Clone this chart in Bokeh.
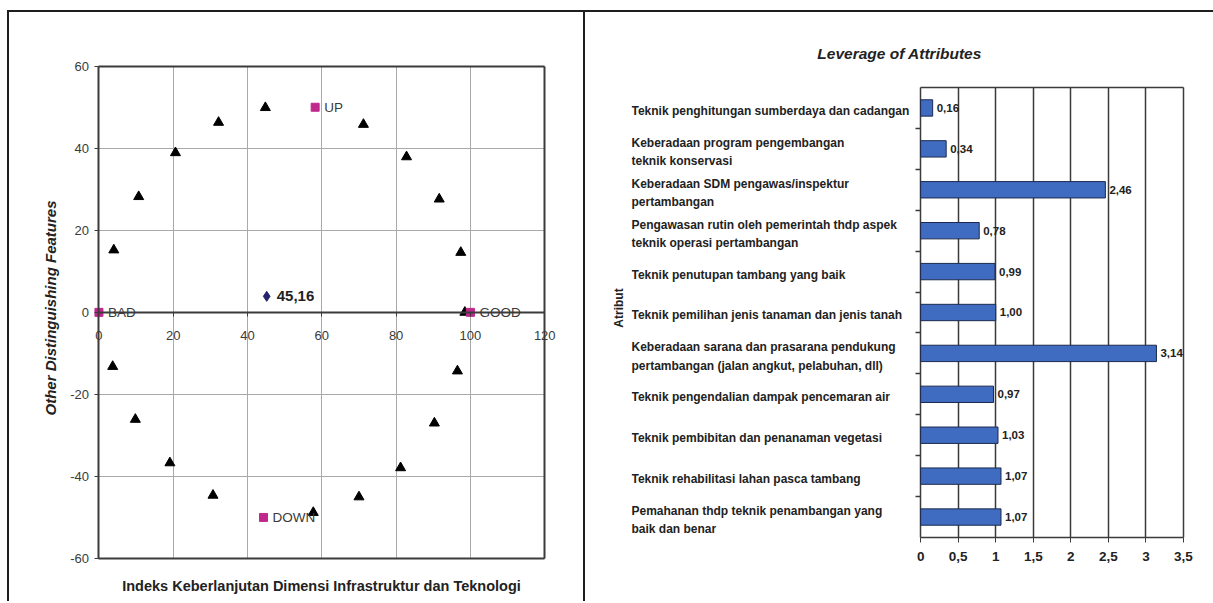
import numpy as np
from bokeh.plotting import figure
from bokeh.models import (LinearAxis, FixedTicker, Range1d, Label, LabelSet, Grid,
                          ColumnDataSource)
from bokeh.layouts import row
from bokeh.core.properties import value
from bokeh.embed import file_html
from bokeh.resources import INLINE

FONT = "Liberation Sans"

# ---------------- ordination data ----------------
attr_x = [4.0, 10.7, 20.6, 32.2, 44.8, 71.2, 82.8, 91.6, 97.4,
          98.5,
          96.5, 90.3, 81.2, 70.0, 57.7, 30.7, 19.1, 9.8, 3.7]
attr_y = [15.2, 28.2, 38.9, 46.3, 49.9, 45.8, 37.9, 27.6, 14.6,
          0.0,
          -14.3, -27.0, -37.9, -45.0, -48.8, -44.6, -36.7, -26.1, -13.2]

anchor_names = ["GOOD", "BAD", "UP", "DOWN"]
anchor_x = [100.0, 0.0, 58.2, 44.3]
anchor_y = [0.0, 0.0, 50.0, -50.0]

index_x = [45.16]
index_y = [3.9]

x_ticks = [0, 20, 40, 60, 80, 100, 120]
y_ticks = [-60, -40, -20, 0, 20, 40, 60]

# ---------------- leverage data ----------------
attributes = [
    "Teknik penghitungan sumberdaya dan cadangan",
    "Keberadaan program pengembangan\nteknik konservasi",
    "Keberadaan SDM pengawas/inspektur\npertambangan",
    "Pengawasan rutin oleh pemerintah thdp aspek\nteknik operasi pertambangan",
    "Teknik penutupan tambang yang baik",
    "Teknik pemilihan jenis tanaman dan jenis tanah",
    "Keberadaan sarana dan prasarana pendukung\npertambangan (jalan angkut, pelabuhan, dll)",
    "Teknik pengendalian dampak pencemaran air",
    "Teknik pembibitan dan penanaman vegetasi",
    "Teknik rehabilitasi lahan pasca tambang",
    "Pemahanan thdp teknik penambangan yang\nbaik dan benar",
]
leverage = [0.16, 0.34, 2.46, 0.78, 0.99, 1.00, 3.14, 0.97, 1.03, 1.07, 1.07]
lev_ticks = [0, 0.5, 1, 1.5, 2, 2.5, 3, 3.5]

DARK = "#3d3a3a"
GRID = "#a9a9a9"
TEXT = "#222222"

# ================= left panel: ordination =================
# the visible box is 0..120 x -60..60; the ranges leave room for the axis texts
p1 = figure(width=578, height=591, x_range=Range1d(-10.08, 129.9), y_range=Range1d(-64.15, 66.27),
            output_backend="svg", toolbar_location=None,
            min_border_left=52, min_border_right=6, min_border_top=28, min_border_bottom=28)
p1.background_fill_color = "white"
p1.border_fill_color = "white"
p1.outline_line_color = None

p1.xaxis.fixed_location = 0
p1.yaxis.fixed_location = 0
p1.xaxis.bounds = (x_ticks[0], x_ticks[-1])
p1.yaxis.bounds = (y_ticks[0], y_ticks[-1])
p1.xaxis.ticker = FixedTicker(ticks=x_ticks)
p1.yaxis.ticker = FixedTicker(ticks=y_ticks)
p1.yaxis.major_label_overrides = {t: str(t) for t in y_ticks}
for ax in (p1.xaxis, p1.yaxis):
    ax.axis_line_color = DARK
    ax.axis_line_width = 2
    ax.major_tick_line_color = DARK
    ax.major_tick_in = 0
    ax.major_tick_out = 4
    ax.minor_tick_line_color = None
    ax.major_label_text_font = FONT
    ax.major_label_text_font_size = "13px"
    ax.major_label_text_color = "#3a3a3a"
p1.xaxis.major_label_standoff = 15
p1.yaxis.major_label_standoff = 6

p1.xgrid.grid_line_color = GRID
p1.ygrid.grid_line_color = GRID
p1.xgrid.cross_bounds = (y_ticks[0], y_ticks[-1])
p1.ygrid.cross_bounds = (x_ticks[0], x_ticks[-1])

# dark box around the ordination area
p1.add_layout(Grid(dimension=0, ticker=FixedTicker(ticks=[x_ticks[-1]]),
                   cross_bounds=(y_ticks[0], y_ticks[-1]),
                   grid_line_color=DARK, grid_line_width=2))
p1.add_layout(Grid(dimension=1, ticker=FixedTicker(ticks=[y_ticks[0], y_ticks[-1]]),
                   cross_bounds=(x_ticks[0], x_ticks[-1]),
                   grid_line_color=DARK, grid_line_width=2))

xtitle = LinearAxis(ticker=FixedTicker(ticks=[]),
                    axis_label="Indeks Keberlanjutan Dimensi Infrastruktur dan Teknologi",
                    axis_line_color=None, major_tick_line_color=None,
                    minor_tick_line_color=None, axis_label_standoff=2,
                    axis_label_text_font=FONT, axis_label_text_font_size="14.5px",
                    axis_label_text_font_style="bold", axis_label_text_color=TEXT)
p1.add_layout(xtitle, "below")
ytitle = LinearAxis(ticker=FixedTicker(ticks=[]),
                    axis_label="Other Distinguishing Features",
                    axis_line_color=None, major_tick_line_color=None,
                    minor_tick_line_color=None, axis_label_standoff=3,
                    axis_label_text_font=FONT, axis_label_text_font_size="15px",
                    axis_label_text_font_style="bold italic", axis_label_text_color=TEXT)
p1.add_layout(ytitle, "left")

p1.scatter(attr_x, attr_y, marker="triangle", size=10, fill_color="black", line_color="black")

anchor_src = ColumnDataSource(dict(x=anchor_x, y=anchor_y, name=anchor_names))
p1.scatter("x", "y", source=anchor_src, marker="square", size=8,
           fill_color="#c0288c", line_color="#c0288c")
p1.add_layout(LabelSet(x="x", y="y", text="name", source=anchor_src, x_offset=9,
                       text_baseline="middle", text_font=value(FONT),
                       text_font_size=value("13.5px"), text_color="#3a3a3a"))

idx_src = ColumnDataSource(dict(x=index_x, y=index_y,
                                txt=[f"{v:.2f}".replace(".", ",") for v in index_x]))
p1.scatter("x", "y", source=idx_src, marker="diamond", size=10,
           fill_color="#25256e", line_color="#25256e")
p1.add_layout(LabelSet(x="x", y="y", text="txt", source=idx_src, x_offset=10,
                       text_baseline="middle", text_font=value(FONT),
                       text_font_size=value("15px"), text_font_style="bold",
                       text_color=TEXT))

p1.styles = {"border-top": "2px solid #1e1e1e", "border-left": "2px solid #1e1e1e",
             "border-right": "2px solid #1e1e1e"}
p1.margin = (10, 0, 0, 7)

# ================= right panel: leverage of attributes =================
n = len(attributes)
pos = list(range(n))
lev_src = ColumnDataSource(dict(
    pos=pos, val=leverage, attr=attributes,
    txt=[f"{v:.2f}".replace(".", ",") for v in leverage]))

X2_START = -3.85
p2 = figure(width=628, height=591, x_range=Range1d(X2_START, 3.793), y_range=Range1d(11.429, -1.649),
            output_backend="svg", toolbar_location=None,
            min_border_left=46, min_border_right=8, min_border_top=28, min_border_bottom=28)
p2.background_fill_color = "white"
p2.border_fill_color = "white"
p2.outline_line_color = None

p2.hbar(y="pos", left=0, right="val", height=0.4, source=lev_src,
        fill_color="#3f6cc0", line_color="#1d2a4d", line_width=1)

# value axis along the bottom edge of the bars
p2.xaxis.fixed_location = n - 0.5
p2.xaxis.bounds = (lev_ticks[0], lev_ticks[-1])
p2.xaxis.ticker = FixedTicker(ticks=lev_ticks)
p2.xaxis.major_label_overrides = {t: f"{t:g}".replace(".", ",") for t in lev_ticks}
p2.xaxis.axis_line_color = DARK
p2.xaxis.axis_line_width = 1.5
p2.xaxis.major_tick_line_color = DARK
p2.xaxis.major_tick_in = 0
p2.xaxis.major_tick_out = 5
p2.xaxis.minor_tick_line_color = None
p2.xaxis.major_label_text_font = FONT
p2.xaxis.major_label_text_font_size = "13.5px"
p2.xaxis.major_label_text_font_style = "bold"
p2.xaxis.major_label_text_color = TEXT
p2.xaxis.major_label_standoff = 10

p2.xgrid.grid_line_color = DARK
p2.xgrid.grid_line_width = 1.5
p2.xgrid.cross_bounds = (-0.5, n - 0.5)
p2.ygrid.grid_line_color = None

# top edge of the bar area and the category separator ticks
p2.add_layout(Grid(dimension=1, ticker=FixedTicker(ticks=[-0.5]),
                   cross_bounds=(lev_ticks[0], lev_ticks[-1]),
                   grid_line_color=DARK, grid_line_width=1.5))
p2.add_layout(Grid(dimension=1, ticker=FixedTicker(ticks=[i + 0.5 for i in range(n - 1)]),
                   cross_bounds=(-0.067, 0), grid_line_color=DARK, grid_line_width=1.5))

p2.yaxis.ticker = FixedTicker(ticks=[])
p2.yaxis.axis_line_color = None
p2.yaxis.major_tick_line_color = None
p2.yaxis.minor_tick_line_color = None
p2.yaxis.axis_label = "Atribut"
p2.yaxis.axis_label_standoff = 6
p2.yaxis.axis_label_text_font = FONT
p2.yaxis.axis_label_text_font_size = "12px"
p2.yaxis.axis_label_text_font_style = "bold"
p2.yaxis.axis_label_text_color = TEXT

p2.add_layout(LabelSet(x="val", y="pos", text="txt", source=lev_src, x_offset=4,
                       text_baseline="middle", text_font=value(FONT),
                       text_font_size=value("11.5px"), text_font_style="bold",
                       text_color=TEXT))
p2.add_layout(LabelSet(x=X2_START, y="pos", text="attr", source=lev_src,
                       text_align="left", text_baseline="middle", y_offset=-3,
                       text_font=value(FONT), text_font_size=value("12px"),
                       text_font_style="bold", text_color=TEXT,
                       text_line_height=1.3))
p2.add_layout(Label(x=-0.28, y=-1.33, text="Leverage of Attributes",
                    text_align="center", text_baseline="middle", text_font=FONT,
                    text_font_size="15.5px", text_font_style="bold italic", text_color=TEXT))

p2.styles = {"border-top": "2px solid #1e1e1e"}
p2.margin = (10, 0, 0, 0)

layout = row(p1, p2)
open("out.html", "w").write(file_html(layout, INLINE))
